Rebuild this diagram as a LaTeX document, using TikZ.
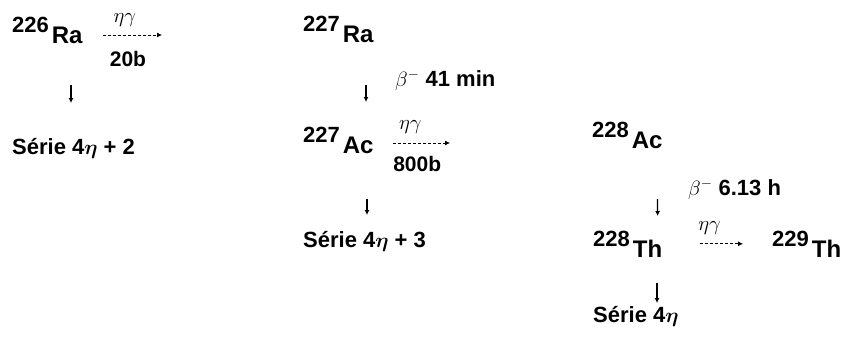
\documentclass[tikz,border=0pt]{standalone}
\usepackage{amsmath}
\usepackage{fontspec}
\setmainfont{Liberation Sans}
\usetikzlibrary{arrows.meta,calc}
\newcommand{\nuc}[2]{\raisebox{11pt}{#1}\kern3pt{\fontsize{24}{24}\selectfont #2}}

\begin{document}
\begin{tikzpicture}[x=1pt,y=-1pt,
  every node/.style={inner sep=0pt,anchor=base west,font=\fontsize{22}{25}\selectfont\bfseries},
  decay/.style={-{Latex[length=5pt,width=5pt]},line width=1.2pt},
  capture/.style={-{Latex[length=5pt,width=5pt]},line width=0.8pt,dash pattern=on 3pt off 2pt},
  xsec/.style={font=\fontsize{21}{24}\selectfont\bfseries},
  ng/.style={font=\fontsize{20}{20}\selectfont}]
\useasboundingbox (0,0) rectangle (842,349);
% first chain
\node (ra226) at (12,43) {\nuc{226}{Ra}};
\node (serie2) at (12,154) {Série 4$\boldsymbol\eta$ + 2};
\coordinate (n1) at (162,35);
\draw[capture,shorten <=20pt] (ra226.east |- n1) -- (n1)
  node[ng,pos=0.53,above=8pt,anchor=south] {$\eta\gamma$}
  node[xsec,pos=0.57,below=16pt,anchor=north] {20b};
\draw[decay,shorten <=42pt,shorten >=51pt] ([xshift=59pt]ra226.base west) -- ([xshift=59pt]serie2.base west);
% second chain
\node (ra227) at (303,42) {\nuc{227}{Ra}};
\node (beta1) at (395,86) {$\beta^{-}$ 41 min};
\node (ac227) at (303,153) {\nuc{227}{Ac}};
\node (serie3) at (303,247) {Série 4$\boldsymbol\eta$ + 3};
\coordinate (n2) at (450,143);
\draw[capture,shorten <=19pt] (ac227.east |- n2) -- (n2)
  node[ng,pos=0.48,above=9pt,anchor=south] {$\eta\gamma$}
  node[xsec,pos=0.57,below=13pt,anchor=north] {800b};
\draw[decay,shorten <=43pt,shorten >=51pt] ([xshift=63pt]ra227.base west) -- ([xshift=63pt]ac227.base west);
\draw[decay,shorten <=46pt,shorten >=32pt] ([xshift=64pt]ac227.base west) -- ([xshift=64pt]serie3.base west);
% third chain
\node (ac228) at (592,148) {\nuc{228}{Ac}};
\node (beta2) at (688,195) {$\beta^{-}$ 6.13 h};
\node (th228) at (593,257) {\nuc{228}{Th}};
\node (th229) at (772,257) {\nuc{229}{Th}};
\node (serie4) at (593,322) {Série 4$\boldsymbol\eta$};
\draw[capture,shorten <=38pt,shorten >=29pt] (th228.east) -- (th229.west)
  node[ng,pos=0.43,above=9pt,anchor=south] {$\eta\gamma$};
\draw[decay,shorten <=51pt,shorten >=41pt] ([xshift=65pt]ac228.base west) -- ([xshift=65pt]th228.base west);
\draw[decay,shorten <=26pt,shorten >=19pt] ([xshift=64pt]th228.base west) -- ([xshift=64pt]serie4.base west);
\end{tikzpicture}
\end{document}
